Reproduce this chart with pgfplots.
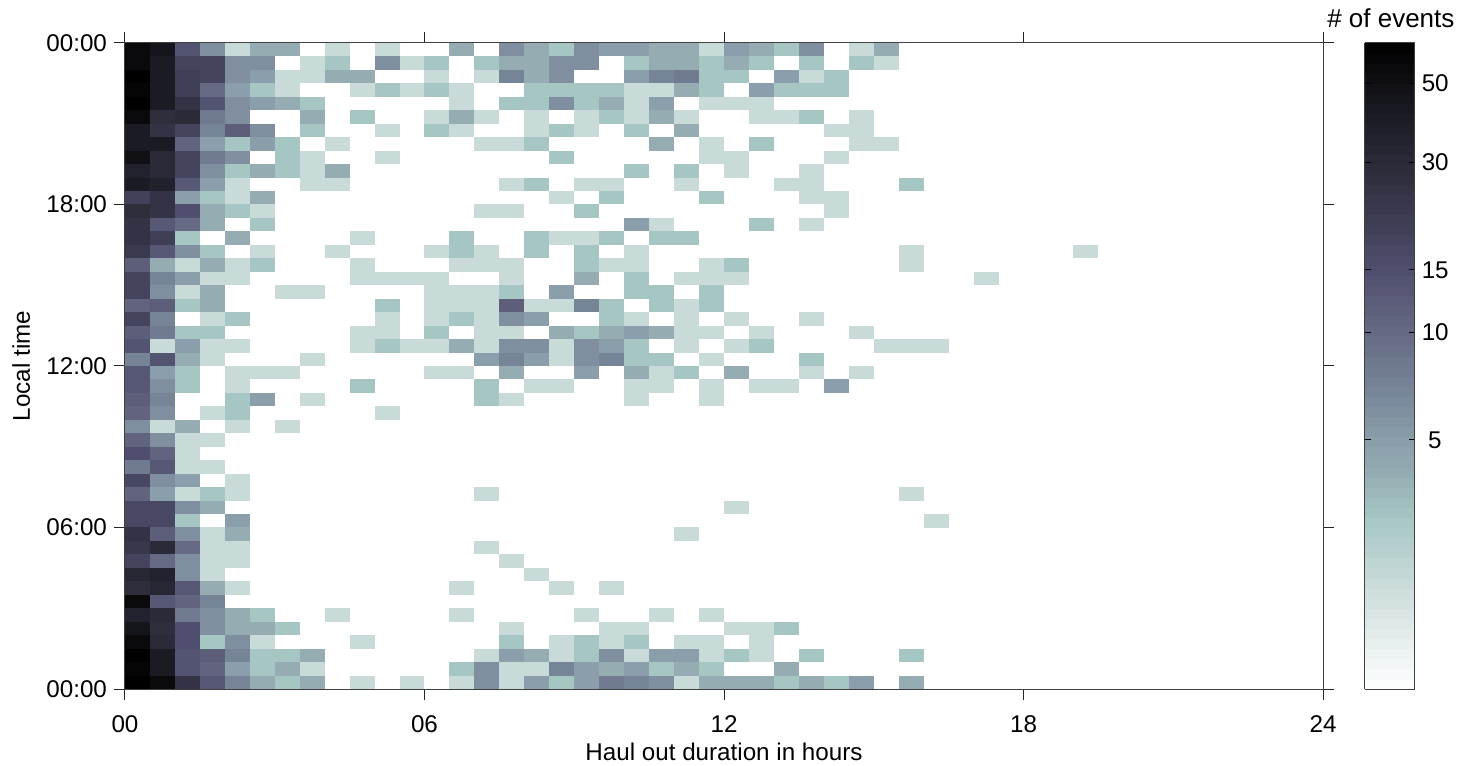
\documentclass[border=0pt]{standalone}
\usepackage{fontspec}
\setmainfont{Liberation Sans}
\usepackage{pgfplots}
\pgfplotsset{compat=1.18}
\pgfdeclareplotmark{cell}{\pgfpathrectangle{\pgfpoint{-6.24pt}{-3.365pt}}{\pgfpoint{12.48pt}{6.73pt}}\pgfusepathqfill}
\newcommand{\lab}{\fontsize{12.1}{14}\selectfont}
\begin{document}
\begin{tikzpicture}
\path[use as bounding box] (0,0) rectangle (732.5pt,382.5pt);
\begin{axis}[
  at={(62.5pt,38pt)}, anchor=south west,
  scale only axis, width=599pt, height=323pt,
  xmin=0, xmax=24, ymin=0, ymax=24,
  xtick={0,6,12,18,24}, xticklabels={00,06,12,18,24},
  ytick={0,6,12,18,24}, yticklabels={00:00,06:00,12:00,18:00,00:00},
  tick align=outside, major tick length=5.5pt,
  tick style={black!85, line width=0.5pt},
  axis line style={black!75, line width=0.5pt},
  every tick label/.append style={font=\lab},
  xticklabel style={yshift=-4.5pt},
  yticklabel style={xshift=0pt},
  xlabel={Haul out duration in hours}, ylabel={Local time},
  xlabel style={font=\lab, at={(0.5,0)}, anchor=base, yshift=-35.5pt},
  ylabel style={font=\lab, at={(0,0.5)}, anchor=base, rotate=0, yshift=47.5pt},
  axis on top,
  colormap={seal}{
    rgb255(0pt)=(255,255,255)
    rgb255(69pt)=(200,219,217)
    rgb255(110pt)=(166,198,196)
    rgb255(139pt)=(148,172,178)
    rgb255(161pt)=(138,158,171)
    rgb255(179pt)=(127,143,159)
    rgb255(195pt)=(118,132,152)
    rgb255(230pt)=(102,106,132)
    rgb255(271pt)=(79,78,110)
    rgb255(300pt)=(63,62,86)
    rgb255(340pt)=(42,42,56)
    rgb255(391pt)=(16,16,21)
    rgb255(417pt)=(0,0,0)
  },
  point meta min=0, point meta max=4.174,
  colorbar, colorbar sampled,
  colorbar style={
    samples=65,
    at={(parent axis.north east)}, anchor=north west, xshift=12.3pt,
    width=25pt,
    ytick={1.609,2.303,2.708,3.401,3.912},
    yticklabels={5,10,15,30,50},
    tick align=inside, major tick length=3pt,
    tickpos=both, yticklabel pos=right,
    tick style={black, line width=0.5pt},
    axis line style={black!75, line width=0.5pt},
    yticklabel style={font=\lab, text width=13pt, align=center, xshift=0pt},
    title={\fontsize{11.4}{14}\selectfont\# of events},
    title style={at={(0.5,1)}, anchor=south, scale=1.14, xshift=0.5pt, yshift=-2pt},
  },
]
\addplot[scatter, only marks, mark=cell, scatter src=explicit]
  table[row sep=\\, x expr={\thisrow{c}/2+0.25}, y expr={23.75-\thisrow{r}/2}, meta expr={ln(\thisrow{n})}] {
c r n\\
0 0 55\\1 0 45\\2 0 14\\3 0 6\\4 0 2\\5 0 4\\6 0 4\\8 0 2\\10 0 2\\13 0 4\\15 0 6\\16 0 4\\17 0 3\\18 0 6\\19 0 5\\20 0 5\\21 0 4\\22 0 4\\23 0 2\\24 0 5\\25 0 4\\26 0 3\\27 0 6\\29 0 2\\30 0 4\\
0 1 55\\1 1 40\\2 1 18\\3 1 18\\4 1 6\\5 1 6\\7 1 2\\8 1 3\\10 1 6\\11 1 2\\12 1 3\\14 1 3\\15 1 4\\16 1 4\\17 1 6\\18 1 6\\20 1 3\\21 1 4\\22 1 4\\23 1 3\\24 1 4\\25 1 3\\27 1 3\\29 1 3\\30 1 2\\
0 2 65\\1 2 40\\2 2 20\\3 2 18\\4 2 6\\5 2 5\\6 2 2\\7 2 2\\8 2 4\\9 2 4\\12 2 2\\14 2 2\\15 2 7\\16 2 4\\17 2 6\\20 2 5\\21 2 7\\22 2 8\\23 2 3\\24 2 3\\26 2 5\\27 2 2\\28 2 3\\
0 3 60\\1 3 40\\2 3 20\\3 3 10\\4 3 5\\5 3 3\\6 3 2\\9 3 2\\10 3 3\\11 3 2\\12 3 3\\13 3 2\\16 3 3\\17 3 3\\18 3 3\\19 3 3\\20 3 2\\21 3 2\\22 3 4\\23 3 3\\25 3 5\\26 3 3\\27 3 3\\28 3 3\\
0 4 65\\1 4 40\\2 4 25\\3 4 14\\4 4 6\\5 4 5\\6 4 4\\7 4 3\\13 4 2\\15 4 3\\16 4 3\\17 4 6\\18 4 3\\19 4 4\\20 4 2\\21 4 5\\23 4 2\\24 4 2\\25 4 2\\
0 5 55\\1 5 28\\2 5 30\\3 5 8\\4 5 6\\7 5 4\\9 5 3\\12 5 2\\13 5 4\\14 5 2\\16 5 2\\18 5 2\\19 5 3\\20 5 2\\21 5 4\\22 5 2\\25 5 2\\26 5 2\\27 5 3\\29 5 2\\
0 6 40\\1 6 25\\2 6 18\\3 6 7\\4 6 12\\5 6 6\\7 6 3\\10 6 2\\12 6 3\\13 6 2\\16 6 2\\17 6 3\\18 6 2\\20 6 3\\22 6 4\\28 6 2\\29 6 2\\
0 7 40\\1 7 40\\2 7 11\\3 7 5\\4 7 3\\5 7 5\\6 7 3\\8 7 2\\14 7 2\\15 7 2\\16 7 3\\21 7 4\\23 7 2\\25 7 3\\29 7 2\\30 7 2\\
0 8 50\\1 8 30\\2 8 18\\3 8 8\\4 8 6\\6 8 3\\7 8 2\\10 8 2\\17 8 3\\23 8 2\\24 8 2\\28 8 2\\
0 9 35\\1 9 30\\2 9 18\\3 9 6\\4 9 3\\5 9 4\\6 9 3\\7 9 2\\8 9 4\\20 9 3\\22 9 3\\24 9 2\\27 9 2\\
0 10 40\\1 10 35\\2 10 13\\3 10 5\\4 10 2\\7 10 2\\8 10 2\\15 10 2\\16 10 3\\18 10 2\\19 10 2\\22 10 2\\26 10 2\\27 10 2\\31 10 3\\
0 11 19\\1 11 25\\2 11 5\\3 11 3\\4 11 2\\5 11 4\\17 11 2\\19 11 3\\23 11 3\\27 11 2\\28 11 2\\
0 12 28\\1 12 25\\2 12 15\\3 12 4\\4 12 3\\5 12 2\\14 12 2\\15 12 2\\18 12 3\\28 12 2\\
0 13 25\\1 13 13\\2 13 10\\3 13 4\\5 13 3\\20 13 5\\21 13 2\\25 13 3\\27 13 2\\
0 14 25\\1 14 20\\2 14 3\\4 14 4\\9 14 2\\13 14 3\\16 14 3\\17 14 2\\18 14 2\\19 14 3\\21 14 3\\22 14 3\\
0 15 22\\1 15 13\\2 15 6\\3 15 3\\5 15 2\\8 15 2\\12 15 2\\13 15 3\\14 15 2\\16 15 3\\18 15 3\\20 15 2\\31 15 2\\38 15 2\\
0 16 12\\1 16 4\\2 16 2\\3 16 4\\4 16 2\\5 16 3\\9 16 2\\13 16 2\\14 16 2\\15 16 2\\18 16 3\\19 16 2\\20 16 2\\23 16 2\\24 16 3\\31 16 2\\
0 17 18\\1 17 7\\2 17 5\\3 17 2\\4 17 2\\9 17 2\\10 17 2\\11 17 2\\12 17 2\\15 17 2\\18 17 4\\20 17 3\\22 17 2\\23 17 2\\24 17 2\\34 17 2\\
0 18 18\\1 18 6\\2 18 2\\3 18 4\\6 18 2\\7 18 2\\12 18 2\\13 18 2\\14 18 2\\15 18 3\\17 18 5\\20 18 3\\21 18 3\\23 18 3\\
0 19 11\\1 19 12\\2 19 3\\3 19 4\\10 19 3\\12 19 2\\13 19 2\\14 19 2\\15 19 12\\16 19 2\\17 19 2\\18 19 7\\19 19 3\\21 19 3\\22 19 2\\23 19 3\\
0 20 18\\1 20 7\\3 20 2\\4 20 3\\10 20 2\\12 20 2\\13 20 3\\14 20 2\\15 20 6\\16 20 5\\19 20 3\\20 20 2\\22 20 2\\24 20 2\\27 20 2\\
0 21 12\\1 21 8\\2 21 3\\3 21 3\\9 21 2\\10 21 2\\12 21 3\\14 21 2\\15 21 2\\17 21 4\\18 21 3\\19 21 4\\20 21 5\\21 21 4\\22 21 2\\23 21 2\\25 21 2\\29 21 2\\
0 22 14\\1 22 2\\2 22 5\\3 22 2\\4 22 2\\9 22 2\\10 22 3\\11 22 2\\12 22 2\\13 22 4\\14 22 2\\15 22 6\\16 22 6\\17 22 2\\18 22 6\\19 22 5\\20 22 3\\22 22 2\\24 22 2\\25 22 3\\30 22 2\\31 22 2\\32 22 2\\
0 23 7\\1 23 14\\2 23 4\\3 23 2\\7 23 2\\14 23 5\\15 23 7\\16 23 5\\17 23 2\\18 23 6\\19 23 7\\20 23 3\\21 23 3\\23 23 2\\27 23 3\\
0 24 13\\1 24 5\\2 24 3\\4 24 2\\5 24 2\\6 24 2\\12 24 2\\13 24 2\\15 24 4\\18 24 5\\20 24 4\\21 24 2\\22 24 3\\24 24 4\\27 24 2\\29 24 2\\
0 25 13\\1 25 6\\2 25 3\\4 25 2\\9 25 3\\14 25 3\\16 25 2\\17 25 2\\20 25 2\\21 25 2\\23 25 2\\25 25 2\\26 25 2\\28 25 5\\
0 26 12\\1 26 7\\4 26 3\\5 26 5\\7 26 2\\14 26 3\\15 26 2\\20 26 2\\23 26 2\\
0 27 11\\1 27 6\\3 27 2\\4 27 3\\10 27 2\\
0 28 6\\1 28 2\\2 28 4\\4 28 2\\6 28 2\\
0 29 11\\1 29 6\\2 29 2\\3 29 2\\
0 30 15\\1 30 11\\2 30 2\\
0 31 8\\1 31 13\\2 31 2\\3 31 2\\
0 32 17\\1 32 6\\2 32 5\\4 32 2\\
0 33 11\\1 33 5\\2 33 2\\3 33 3\\4 33 2\\14 33 2\\31 33 2\\
0 34 17\\1 34 17\\2 34 6\\3 34 4\\24 34 2\\
0 35 17\\1 35 17\\2 35 3\\4 35 5\\32 35 2\\
0 36 25\\1 36 12\\2 36 6\\3 36 2\\4 36 4\\22 36 2\\
0 37 23\\1 37 30\\2 37 10\\3 37 2\\4 37 2\\14 37 2\\
0 38 18\\1 38 10\\2 38 6\\3 38 2\\4 38 2\\15 38 2\\
0 39 32\\1 39 35\\2 39 6\\3 39 2\\16 39 2\\
0 40 28\\1 40 32\\2 40 13\\3 40 4\\4 40 2\\13 40 2\\17 40 2\\19 40 2\\
0 41 55\\1 41 13\\2 41 11\\3 41 7\\
0 42 35\\1 42 30\\2 42 8\\3 42 6\\4 42 4\\5 42 3\\8 42 2\\13 42 2\\18 42 2\\21 42 2\\23 42 2\\
0 43 45\\1 43 28\\2 43 15\\3 43 6\\4 43 4\\5 43 4\\6 43 3\\15 43 2\\19 43 2\\20 43 2\\24 43 2\\25 43 2\\26 43 3\\
0 44 55\\1 44 30\\2 44 15\\3 44 3\\4 44 6\\5 44 2\\9 44 2\\15 44 3\\17 44 2\\18 44 3\\19 44 2\\20 44 3\\22 44 2\\23 44 2\\25 44 2\\
0 45 65\\1 45 40\\2 45 14\\3 45 12\\4 45 7\\5 45 3\\6 45 3\\7 45 4\\14 45 2\\15 45 5\\16 45 4\\17 45 2\\18 45 3\\19 45 6\\20 45 2\\21 45 5\\22 45 5\\23 45 2\\24 45 3\\25 45 2\\27 45 3\\31 45 3\\
0 46 60\\1 46 40\\2 46 14\\3 46 11\\4 46 5\\5 46 3\\6 46 4\\7 46 2\\13 46 3\\14 46 6\\15 46 2\\16 46 2\\17 46 7\\18 46 5\\19 46 4\\20 46 5\\21 46 3\\22 46 4\\23 46 3\\26 46 4\\
0 47 65\\1 47 55\\2 47 25\\3 47 13\\4 47 7\\5 47 4\\6 47 3\\7 47 4\\9 47 2\\11 47 2\\13 47 2\\14 47 6\\15 47 2\\16 47 5\\17 47 3\\18 47 5\\19 47 8\\20 47 7\\21 47 6\\22 47 2\\23 47 4\\24 47 4\\25 47 4\\26 47 3\\27 47 4\\28 47 3\\29 47 5\\31 47 4\\
};
\end{axis}
\end{tikzpicture}
\end{document}
